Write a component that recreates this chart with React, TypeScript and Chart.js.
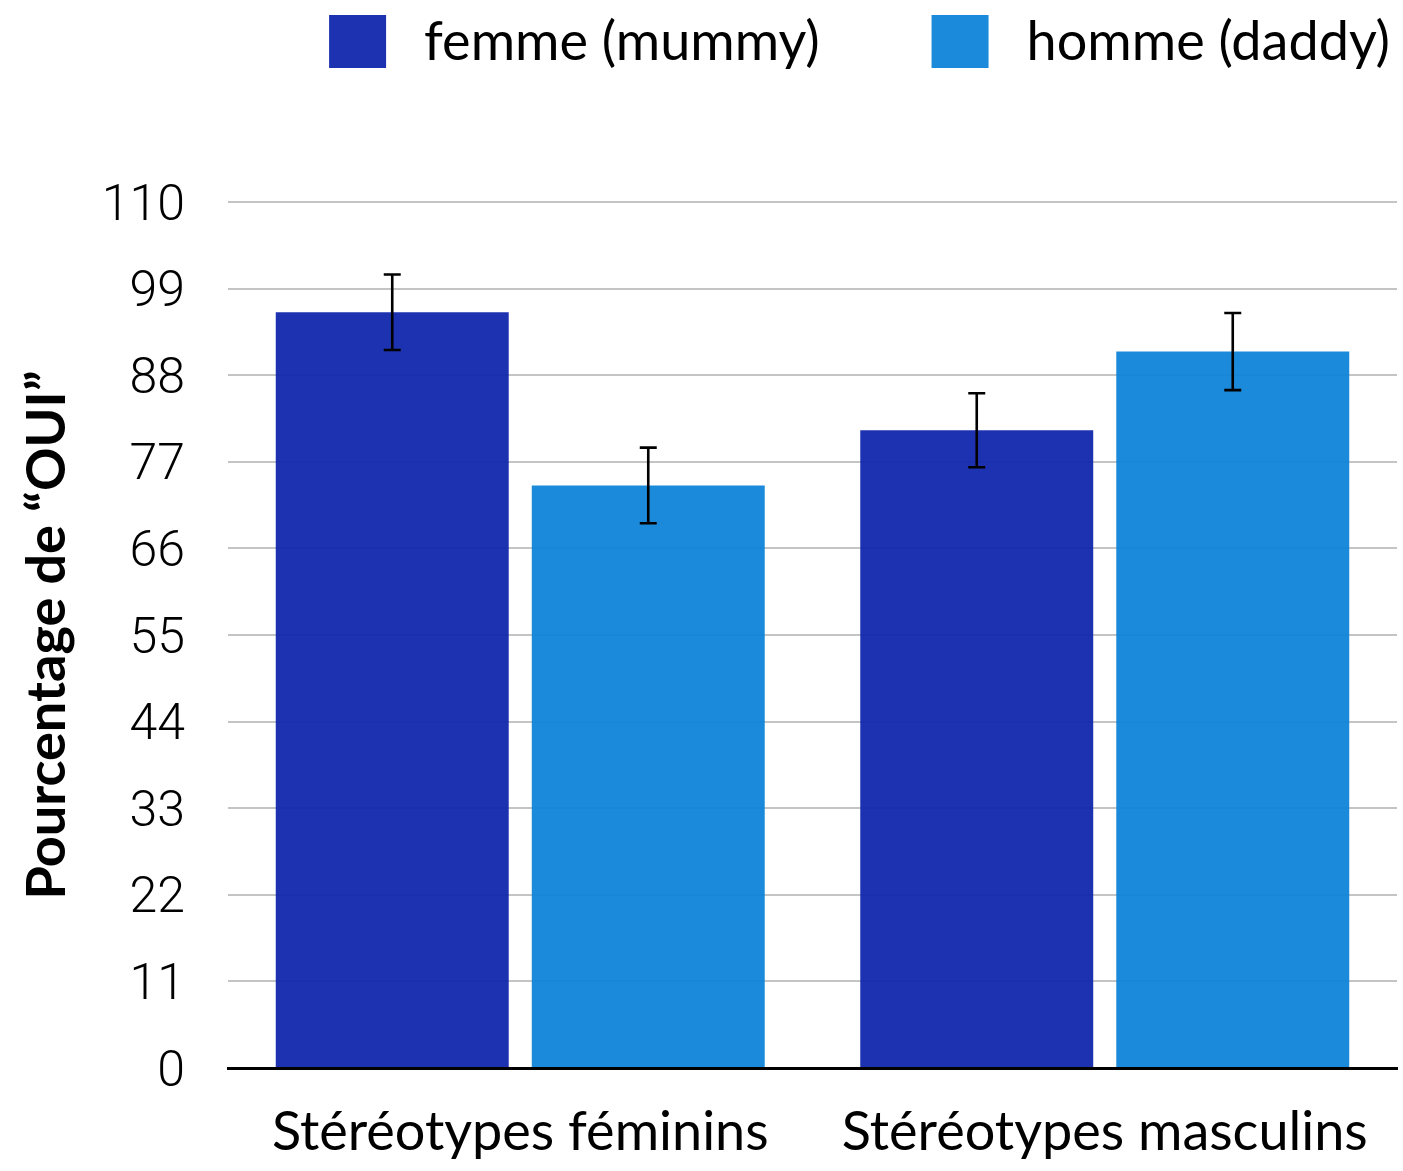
import React, { useEffect, useRef } from 'react';
import { Chart, registerables } from 'chart.js';

Chart.register(...registerables);

const categories = ['Stéréotypes féminins', 'Stéréotypes masculins'];
const seriesLabels = ['femme (mummy)', 'homme (daddy)'];
const femmeValues = [96, 81];
const hommeValues = [74, 91];
const femmeErrors = [4.8, 4.7];
const hommeErrors = [4.8, 4.9];
const yMin = 0;
const yMax = 110;
const yStep = 11;
const yTitle = 'Pourcentage de “OUI”';

const femmeColor = 'rgba(17,39,172,0.95)';
const hommeColor = 'rgba(15,132,216,0.95)';
const femmeLegendColor = '#1d32b0';
const hommeLegendColor = '#1b8ada';

const errorsByDataset = [femmeErrors, hommeErrors];

const errorBarPlugin = {
  id: 'errorBars',
  afterDatasetsDraw(chart: any) {
    const ctx = chart.ctx;
    const y = chart.scales.y;
    chart.data.datasets.forEach((ds: any, i: number) => {
      const meta = chart.getDatasetMeta(i);
      const errs = errorsByDataset[i];
      meta.data.forEach((bar: any, j: number) => {
        const v = ds.data[j];
        const e = errs[j];
        const yTop = y.getPixelForValue(v + e);
        const yBot = y.getPixelForValue(v - e);
        const half = 8.5;
        ctx.save();
        ctx.strokeStyle = '#000';
        ctx.lineWidth = 2.6;
        ctx.beginPath();
        ctx.moveTo(bar.x, yTop);
        ctx.lineTo(bar.x, yBot);
        ctx.moveTo(bar.x - half, yTop);
        ctx.lineTo(bar.x + half, yTop);
        ctx.moveTo(bar.x - half, yBot);
        ctx.lineTo(bar.x + half, yBot);
        ctx.stroke();
        ctx.restore();
      });
    });
  },
};

const legendPlugin = {
  id: 'customLegend',
  afterDraw(chart: any) {
    const ctx = chart.ctx;
    const colors = [femmeLegendColor, hommeLegendColor];
    const boxW = 57;
    const boxH = 53;
    const boxTop = 15;
    const textGap = 38;
    const itemGap = 112;
    ctx.save();
    ctx.font = '54px Lato';
    ctx.textBaseline = 'middle';
    ctx.textAlign = 'left';
    let right = chart.width - 13;
    for (let i = chart.data.datasets.length - 1; i >= 0; i--) {
      const label = chart.data.datasets[i].label;
      const w = ctx.measureText(label).width;
      const textX = right - w;
      const boxX = textX - textGap - boxW;
      ctx.fillStyle = colors[i];
      ctx.fillRect(boxX, boxTop, boxW, boxH);
      ctx.fillStyle = '#000';
      ctx.fillText(label, textX, boxTop + boxH / 2 + 1);
      right = boxX - itemGap;
    }
    ctx.restore();
  },
};

export default function App() {
  const canvasRef = useRef<HTMLCanvasElement | null>(null);

  useEffect(() => {
    if (!canvasRef.current) return;
    const chart = new Chart(canvasRef.current, {
      type: 'bar',
      data: {
        labels: categories,
        datasets: [
          {
            label: seriesLabels[0],
            data: femmeValues,
            backgroundColor: femmeColor,
            borderWidth: 0,
          },
          {
            label: seriesLabels[1],
            data: hommeValues,
            backgroundColor: hommeColor,
            borderWidth: 0,
          },
        ],
      },
      options: {
        responsive: false,
        animation: false,
        layout: { padding: { top: 202, right: 6, bottom: 0, left: 0 } },
        categoryPercentage: 0.876,
        barPercentage: 0.91,
        plugins: {
          legend: { display: false },
          tooltip: { enabled: false },
        },
        scales: {
          x: {
            grid: { display: false, drawTicks: false },
            border: { display: true, color: '#000', width: 3 },
            ticks: {
              padding: 32,
              color: '#000',
              font: { family: 'Lato', size: 54 },
            },
            afterFit(scale: any) {
              scale.height = 103;
            },
          },
          y: {
            min: yMin,
            max: yMax,
            grid: { color: '#c4c4c4', lineWidth: 2, drawTicks: false },
            border: { display: false },
            ticks: {
              stepSize: yStep,
              padding: 43,
              labelOffset: 5,
              color: '#000',
              font: { family: 'Roboto', size: 50, weight: '300' },
            },
            title: {
              display: true,
              text: yTitle,
              color: '#000',
              font: { family: 'Lato', size: 54, weight: 'bold' },
              padding: { top: 15, bottom: 20 },
            },
            afterFit(scale: any) {
              scale.width = 228;
            },
          },
        },
      },
      plugins: [errorBarPlugin, legendPlugin],
    } as any);
    return () => chart.destroy();
  }, []);

  return (
    <div style={{ position: 'absolute', left: 0, top: 0, width: 1403, height: 1171 }}>
      <canvas ref={canvasRef} width={1403} height={1171} />
    </div>
  );
}
